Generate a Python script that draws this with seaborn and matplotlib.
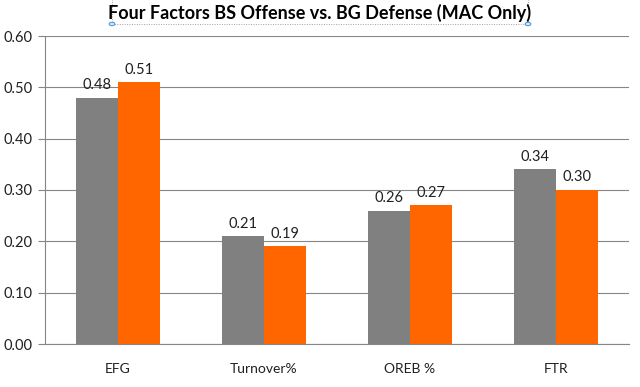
import matplotlib
matplotlib.use('Agg')
import matplotlib.pyplot as plt
import seaborn as sns
import pandas as pd
import numpy as np
from matplotlib.patches import Rectangle, Circle

categories = ["EFG", "Turnover%", "OREB %", "FTR"]
bs_offense = [0.48, 0.21, 0.26, 0.34]
bg_defense = [0.51, 0.19, 0.27, 0.30]
series_names = ["BS Offense", "BG Defense"]
y_ticks = [0.0, 0.1, 0.2, 0.3, 0.4, 0.5, 0.6]

df = pd.DataFrame({
    "factor": categories * 2,
    "value": bs_offense + bg_defense,
    "team": [series_names[0]] * 4 + [series_names[1]] * 4,
})

sns.set_style("white")
plt.rcParams['font.family'] = ['Lato', 'DejaVu Sans']

fig = plt.figure(figsize=(6.4, 3.87), dpi=100, facecolor="white")
ax = fig.add_axes([45 / 640, 1 - 344 / 387, 584 / 640, 308 / 387])

sns.barplot(data=df, x="factor", y="value", hue="team", order=categories,
            palette=["#808080", "#FF6600"], width=0.575, gap=0, saturation=1,
            linewidth=0, legend=False, ax=ax)

for cont in ax.containers:
    ax.bar_label(cont, fmt="%.2f", padding=4, fontsize=10.5, color="#202020")

ax.set_ylim(0, 0.6)
ax.set_xlim(-0.5, 3.5)
ax.set_yticks(y_ticks)
ax.set_yticklabels([f"{v:.2f}" for v in y_ticks], fontsize=10.5, color="#202020")
ax.set_xticks(range(4))
ax.set_xticklabels(categories)
ax.tick_params(axis="x", length=0, labelsize=10, labelcolor="#202020", pad=14)
ax.set_xticks(np.arange(-0.5, 4.0, 1.0), minor=True)
ax.tick_params(axis="x", which="minor", length=5, color="#868686", direction="out")
ax.tick_params(axis="y", length=5, color="#868686", direction="out", left=True, pad=4)
ax.set_xlabel("")
ax.set_ylabel("")
ax.grid(True, axis="y", color="#868686", linewidth=0.8)
ax.set_axisbelow(True)
for side in ["top", "right"]:
    ax.spines[side].set_visible(False)
for side in ["left", "bottom"]:
    ax.spines[side].set_color("#868686")
    ax.spines[side].set_linewidth(0.8)

fig.text(0.5, 1 - 13 / 387, "Four Factors BS Offense vs. BG Defense (MAC Only)",
         ha="center", va="center", fontsize=13, fontweight="bold", color="black")

# title selection frame
frame = Rectangle((112 / 640, 1 - 24 / 387), 416 / 640, 30 / 387, transform=fig.transFigure,
                  fill=False, linestyle=(0, (1, 1.5)), edgecolor="#a0a0a0", linewidth=0.7)
fig.add_artist(frame)
for cx in (112 / 640, 528 / 640):
    fig.add_artist(Circle((cx, 1 - 24 / 387), 0.0045, transform=fig.transFigure,
                          facecolor="#cfe4f7", edgecolor="#4a90d9", linewidth=0.7))

plt.savefig("out.png", dpi=100, facecolor="white")
plt.close()
